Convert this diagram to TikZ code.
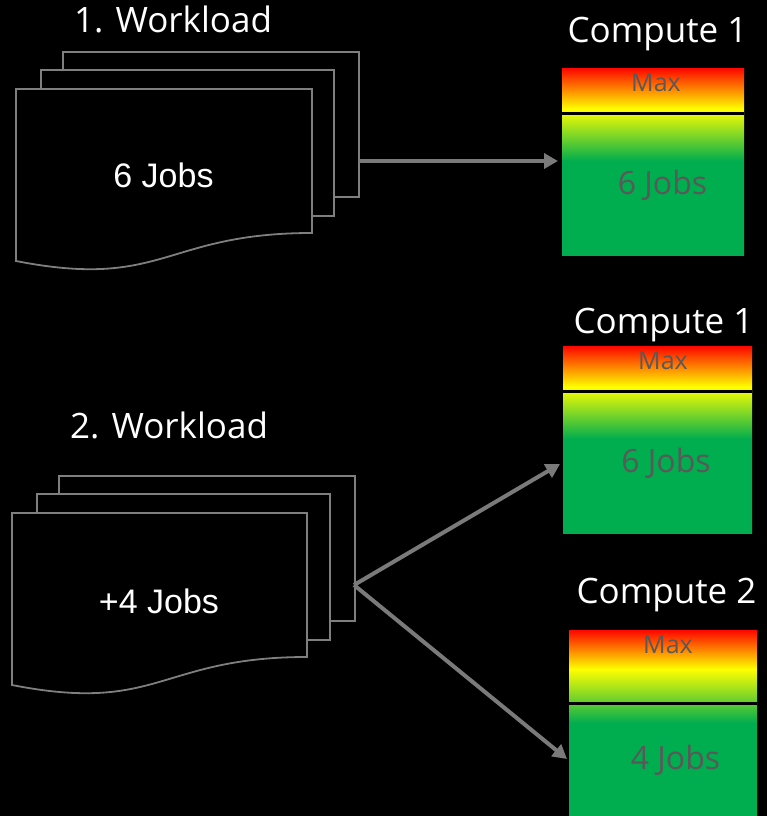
\documentclass[tikz,border=0pt]{standalone}
\usepackage{fontspec}
\setmainfont{Open Sans}
\newfontfamily\arialfont{Liberation Sans}
\usetikzlibrary{arrows.meta}
\definecolor{sheetline}{HTML}{7F7F7F}
\definecolor{arrowgray}{HTML}{7A7A7A}
\definecolor{okgreen}{HTML}{00AD4F}
\definecolor{loadtext}{HTML}{595959}

% load bars: green at the bottom, yellow then red towards the top
\pgfdeclareverticalshading{loadA}{182pt}{rgb(0pt)=(0,0.678,0.31); rgb(94pt)=(0,0.678,0.31); rgb(146pt)=(1,1,0); rgb(188pt)=(1,0,0)}
\pgfdeclareverticalshading{loadB}{189pt}{rgb(0pt)=(0,0.678,0.31); rgb(94pt)=(0,0.678,0.31); rgb(146pt)=(1,1,0); rgb(188pt)=(1,0,0)}
\pgfdeclareverticalshading{loadC}{188pt}{rgb(0pt)=(0,0.678,0.31); rgb(93pt)=(0,0.678,0.31); rgb(147pt)=(1,1,0); rgb(187pt)=(1,0,0)}

\begin{document}
\begin{tikzpicture}[x=1pt,y=-1pt,
  sheet/.style={draw=sheetline,line width=1.8pt,fill=black},
  backsheet/.style={sheet,inner sep=0pt,outer sep=0pt,anchor=north west},
  title/.style={text=white,anchor=base,inner sep=0pt,font=\fontsize{35}{42}\selectfont},
  jobs/.style={text=white,anchor=base,inner sep=0pt,font=\arialfont\fontsize{34}{40}\selectfont},
  maxlabel/.style={text=loadtext,anchor=base,inner sep=0pt,font=\fontsize{25}{30}\selectfont},
  loadlabel/.style={text=loadtext,anchor=base,inner sep=0pt,font=\fontsize{32}{38}\selectfont},
  flow/.style={draw=arrowgray,line width=4pt,-{Triangle[length=14pt,width=15pt]}},
  compute/.style={inner sep=0pt,outer sep=0pt,anchor=north west},
  band/.style={fill=black}
]
\fill[black] (0,0) rectangle (767,816);
\useasboundingbox (0,0) rectangle (767,816);

% ---------- first workload ----------
\node[title] (wl1) at (173,33) {1. Workload};
\node[backsheet,minimum width=296pt,minimum height=145pt] (w1c) at (63,52) {};
\node[backsheet,minimum width=293pt,minimum height=146pt] (w1b) at (41,70) {};
\draw[sheet] (16,89) -- (312,89) -- (312,233)
  .. controls (164,233) and (164,290) .. (16,261) -- cycle;
\node[jobs] (j1) at (163.5,187) {6 Jobs};

% ---------- compute 1 (before) ----------
\node[title] (ct1) at (657.5,43) {Compute 1};
\node[compute] (c1) at (562,67) {\pgfuseshading{loadA}};
\fill[band] ([yshift=-45pt]c1.north west) rectangle ([yshift=-48pt]c1.north east);
\node[maxlabel] (m1) at (656,92) {Max};
\node[loadlabel] (l1) at (662.5,194) {6 Jobs};

\draw[flow] (w1c.east |- c1.west) -- ([xshift=-4pt]c1.west);

% ---------- second workload ----------
\node[title] (wl2) at (169,438) {2. Workload};
\node[backsheet,minimum width=296pt,minimum height=145pt] (w2c) at (59,476) {};
\node[backsheet,minimum width=293pt,minimum height=146pt] (w2b) at (37,494) {};
\draw[sheet] (12,513) -- (307,513) -- (307,657)
  .. controls (159.5,657) and (159.5,714) .. (12,685) -- cycle;
\node[jobs] (j2) at (159,613) {+4 Jobs};

% ---------- compute 1 (after) ----------
\node[title] (ct2) at (663.5,333) {Compute 1};
\node[compute] (c2) at (563,345) {\pgfuseshading{loadB}};
\fill[band] ([yshift=-45pt]c2.north west) rectangle ([yshift=-48pt]c2.north east);
\node[maxlabel] (m2) at (663,369) {Max};
\node[loadlabel] (l2) at (666,472) {6 Jobs};

% ---------- compute 2 ----------
\node[title] (ct3) at (666.5,603) {Compute 2};
\node[compute] (c3) at (569,629) {\pgfuseshading{loadC}};
\fill[band] ([yshift=-73pt]c3.north west) rectangle ([yshift=-76pt]c3.north east);
\node[maxlabel] (m3) at (668,653) {Max};
\node[loadlabel] (l3) at (675.5,769) {4 Jobs};

% ---------- split connectors ----------
\coordinate (s2) at (354,585);
\coordinate (t2) at ([shift={(-3,25)}]c2.west);
\coordinate (t3) at ([shift={(-2,36.5)}]c3.west);
\draw[flow] (s2) -- (t2);
\draw[flow] (s2) -- (t3);
\end{tikzpicture}
\end{document}
